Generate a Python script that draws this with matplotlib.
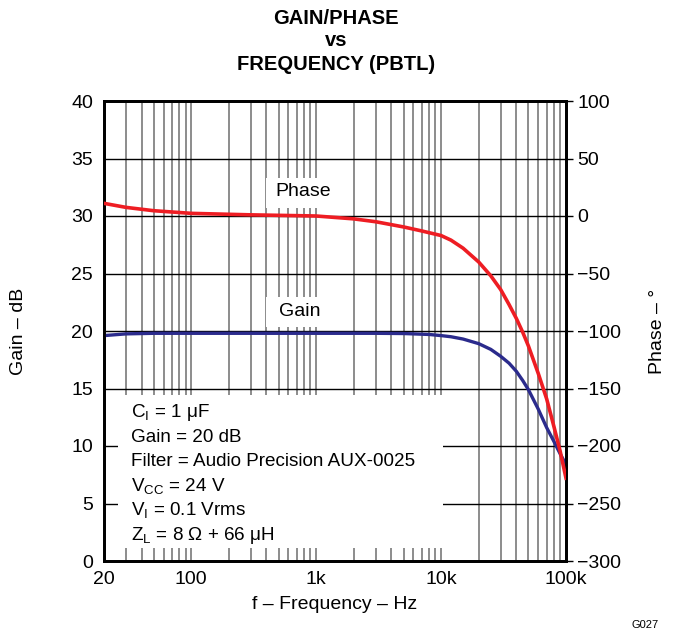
import matplotlib
matplotlib.use("Agg")
import matplotlib.pyplot as plt
from matplotlib.patches import Rectangle

plt.rcParams["font.family"] = ["Liberation Sans", "DejaVu Sans"]
plt.rcParams["mathtext.fontset"] = "custom"
plt.rcParams["mathtext.rm"] = "Liberation Sans"
plt.rcParams["mathtext.it"] = "Liberation Sans:italic"

# data
gain_f = [20, 30, 50, 100, 300, 1000, 3000, 5000, 8000, 10000, 12000, 15000, 20000, 25000,
          30000, 35000, 40000, 45000, 50000, 60000, 70000, 80000, 90000, 100000]
gain_db = [19.6, 19.75, 19.8, 19.8, 19.8, 19.8, 19.8, 19.78, 19.7, 19.6, 19.5, 19.3, 18.9, 18.4,
           17.8, 17.2, 16.5, 15.7, 14.9, 13.2, 11.6, 10.4, 9.3, 8.4]
phase_f = [20, 30, 50, 100, 300, 1000, 2000, 3000, 5000, 7000, 10000, 12000, 15000, 20000,
           25000, 30000, 35000, 40000, 45000, 50000, 60000, 70000, 80000, 90000, 100000]
phase_deg = [11, 7.5, 4.6, 2.3, 1, 0, -2.5, -5, -9.5, -13, -17, -21, -28, -40,
             -52, -64, -77, -89, -101, -113, -137, -159, -183, -205, -228]

xticks = [20, 100, 1000, 10000, 100000]
xticklabels = ["20", "100", "1k", "10k", "100k"]
gain_ticks = list(range(0, 45, 5))
phase_ticks = list(range(-300, 150, 50))
notes = [r"C$_\mathrm{I}$ = 1 $\mathrm{\mu}$F",
         "Gain = 20 dB",
         "Filter = Audio Precision AUX-0025",
         r"V$_\mathrm{CC}$ = 24 V",
         r"V$_\mathrm{I}$ = 0.1 Vrms",
         r"Z$_\mathrm{L}$ = 8 $\Omega$ + 66 $\mathrm{\mu}$H"]

RED = "#ee1d23"
BLUE = "#2b2b8c"
FS = 14

fig = plt.figure(figsize=(6.77, 6.35), dpi=100)
ax = fig.add_axes([104 / 677, 74 / 635, 462 / 677, 460 / 635])
ax.set_xscale("log")
ax.set_xlim(20, 100000)
ax.set_ylim(0, 40)

# grid: minor verticals in gray, horizontals black
for dec in [10, 100, 1000, 10000]:
    for m in range(1, 10):
        f = dec * m
        if 20 < f < 100000:
            ax.axvline(f, color="#6e6e6e", lw=1.1, zorder=1)
for g in gain_ticks[1:-1]:
    ax.axhline(g, color="black", lw=1.0, zorder=1)

# white boxes behind labels
ax.add_patch(Rectangle((396, 30.7), 1971 - 396, 2.6, facecolor="white", edgecolor="none", zorder=2))
ax.add_patch(Rectangle((396, 20.35), 1971 - 396, 2.6, facecolor="white", edgecolor="none", zorder=2))
ax.add_patch(Rectangle((25.9, 1.13), 10350 - 25.9, 13.3, facecolor="white", edgecolor="none", zorder=2))

ax.plot(gain_f, gain_db, color=BLUE, lw=2.4, zorder=4)
ax.text(790, 32.1, "Phase", fontsize=FS, ha="center", va="center", zorder=5)
ax.text(741, 21.7, "Gain", fontsize=FS, ha="center", va="center", zorder=5)
for i, s in enumerate(notes):
    ax.text(0.058, (561 - (417 + 24.6 * i)) / 460, s, transform=ax.transAxes,
            fontsize=13.6, ha="left", va="baseline", zorder=5)

ax.set_xticks(xticks)
ax.set_xticklabels(xticklabels)
ax.xaxis.set_minor_locator(matplotlib.ticker.NullLocator())
ax.set_yticks(gain_ticks)
ax.tick_params(labelsize=FS, length=0)
ax.tick_params(axis="y", pad=8)
ax.tick_params(axis="x", pad=7)
ax.set_ylabel("Gain \u2013 dB", fontsize=FS, labelpad=32)
ax.set_xlabel("f \u2013 Frequency \u2013 Hz", fontsize=FS, labelpad=6)
for sp in ax.spines.values():
    sp.set_linewidth(2.0)

ax2 = ax.twinx()
ax2.set_ylim(-300, 100)
ax2.plot(phase_f, phase_deg, color=RED, lw=2.6, zorder=4)
ax2.set_yticks(phase_ticks)
ax2.set_yticklabels([str(t).replace("-", "\u2212") for t in phase_ticks])
ax2.tick_params(labelsize=FS, length=5, width=1, pad=3, direction="out")
ax2.set_ylabel("Phase \u2013 \u00b0", fontsize=FS, labelpad=20)
for sp in ax2.spines.values():
    sp.set_linewidth(2.0)

for txt, y in [("GAIN/PHASE", 18), ("vs", 41), ("FREQUENCY (PBTL)", 64)]:
    fig.text(336 / 677, 1 - y / 635, txt, fontsize=14.5, fontweight="bold", ha="center", va="center")
fig.text(645 / 677, 1 - 625 / 635, "G027", fontsize=8, ha="center", va="center")

fig.savefig("out.png", dpi=100)
